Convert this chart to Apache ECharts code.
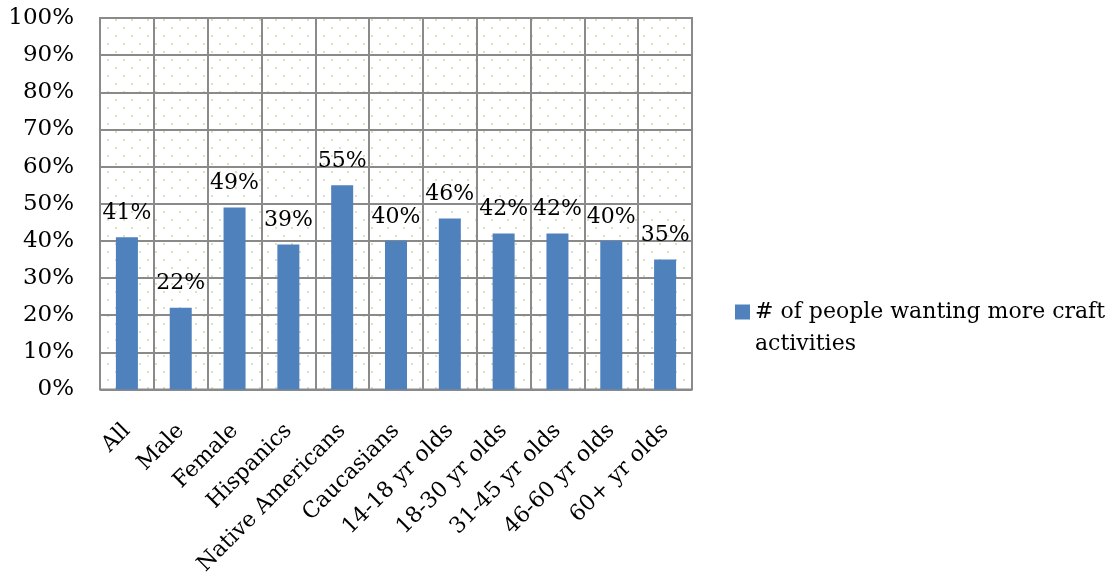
<!DOCTYPE html>
<html>
<head>
<meta charset="utf-8">
<script src="https://cdn.jsdelivr.net/npm/echarts@6/dist/echarts.min.js"></script>
<style>
  html, body { margin: 0; padding: 0; background: #ffffff; }
  #chart { width: 1115px; height: 578px; }
</style>
</head>
<body>
<div id="chart"></div>
<script>
// Survey results: share of respondents wanting more craft activities
const categories = ['All', 'Male', 'Female', 'Hispanics', 'Native Americans', 'Caucasians',
  '14-18 yr olds', '18-30 yr olds', '31-45 yr olds', '46-60 yr olds', '60+ yr olds'];
const values = [41, 22, 49, 39, 55, 40, 46, 42, 42, 40, 35];
const seriesName = '# of people wanting more craft activities';
const yTicks = [0, 10, 20, 30, 40, 50, 60, 70, 80, 90, 100];

const FONT = 'DejaVu Serif';

// Light dotted fill for the plot area
function dotPattern() {
  const c = document.createElement('canvas');
  c.width = 16; c.height = 16;
  const g = c.getContext('2d');
  g.fillStyle = '#ffffff';
  g.fillRect(0, 0, 16, 16);
  g.fillStyle = '#d9e4bf';
  g.fillRect(3, 3, 2, 2);
  g.fillRect(11, 11, 2, 2);
  return c;
}

const chart = echarts.init(document.getElementById('chart'), null, { renderer: 'canvas' });
chart.setOption({
  animation: false,
  backgroundColor: '#ffffff',
  textStyle: { fontFamily: FONT, color: '#000' },
  grid: {
    left: 100, top: 18, width: 592, height: 374,
    show: true,
    backgroundColor: { image: dotPattern(), repeat: 'repeat' },
    borderColor: '#8a8a8a', borderWidth: 2
  },
  legend: {
    left: 735, top: 296, padding: 0,
    orient: 'vertical',
    // square sits beside the first line of the two-line label
    icon: 'path://M0,0H15V15H0Z M0,47H0.01V47.01H0Z',
    itemWidth: 15, itemHeight: 47,
    formatter: () => '# of people wanting more craft\nactivities',
    textStyle: { fontFamily: FONT, fontSize: 22, color: '#000', lineHeight: 32 }
  },
  xAxis: {
    type: 'category',
    data: categories,
    axisLine: { show: false },
    axisTick: { show: false },
    splitLine: { show: true, interval: 0, lineStyle: { color: '#8a8a8a', width: 2 } },
    axisLabel: {
      interval: 0, rotate: 45, margin: 38,
      fontFamily: FONT, fontSize: 22, color: '#000'
    }
  },
  yAxis: {
    type: 'value',
    min: yTicks[0], max: yTicks[yTicks.length - 1], interval: 10,
    axisLine: { show: false },
    axisTick: { show: false },
    splitLine: { show: true, lineStyle: { color: '#8a8a8a', width: 2 } },
    axisLabel: { margin: 26, fontFamily: FONT, fontSize: 23, color: '#000', formatter: v => v + '%' }
  },
  series: [{
    name: seriesName,
    type: 'bar',
    data: values,
    barWidth: 22,
    itemStyle: { color: '#4f81bd' },
    label: {
      show: true, position: 'top', distance: 13,
      fontFamily: FONT, fontSize: 22, color: '#000',
      formatter: p => p.value + '%'
    }
  }]
});
</script>
</body>
</html>
